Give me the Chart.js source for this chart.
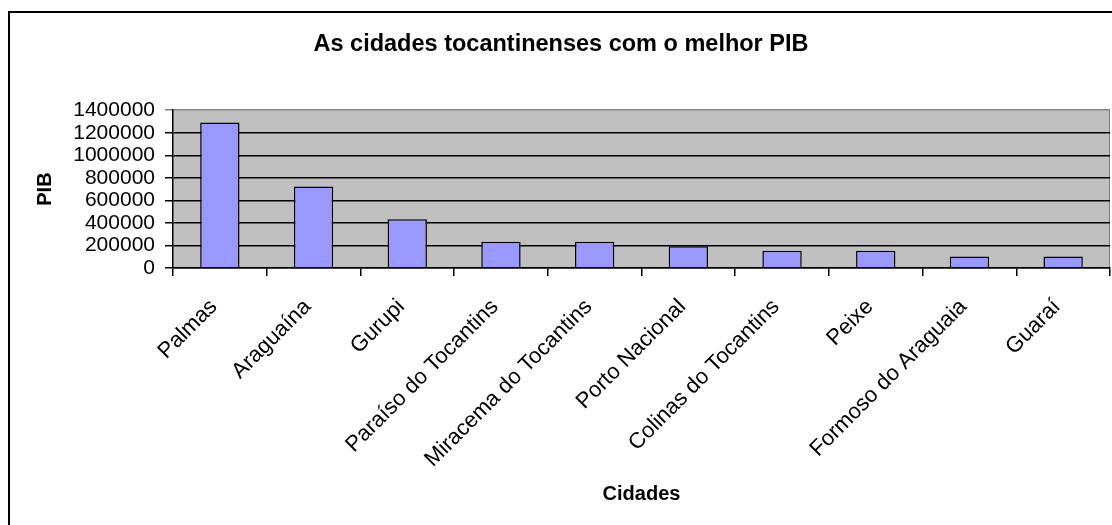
<!DOCTYPE html>
<html>
<head>
<meta charset="utf-8">
<script src="https://cdn.jsdelivr.net/npm/chart.js@4/dist/chart.umd.min.js"></script>
<style>
  html, body { margin: 0; padding: 0; background: #fff; overflow: hidden; }
  #wrap { position: relative; width: 1112px; height: 525px; }
  #frame {
    position: absolute; left: 8px; top: 11px; width: 2000px; height: 2000px;
    border-left: 2px solid #000; border-top: 2px solid #000; pointer-events: none;
  }
</style>
</head>
<body>
<div id="wrap">
  <canvas id="chart" width="1112" height="525"></canvas>
  <div id="frame"></div>
</div>
<script>
const cidades = [
  'Palmas', 'Araguaína', 'Gurupi', 'Paraíso do Tocantins', 'Miracema do Tocantins',
  'Porto Nacional', 'Colinas do Tocantins', 'Peixe', 'Formoso do Araguaia', 'Guaraí'
]
const pib = [1290000, 722000, 433000, 233000, 232000, 194000, 153000, 153000, 103000, 103000]
const yTicks = [0, 200000, 400000, 600000, 800000, 1000000, 1200000, 1400000]

const fontFamily = '"Liberation Sans", Arial, sans-serif'

// grey plot area like the old spreadsheet charts
const plotBackground = {
  id: 'plotBackground',
  beforeDraw (chart) {
    const { ctx, chartArea: a } = chart
    ctx.save()
    ctx.fillStyle = '#c0c0c0'
    ctx.fillRect(a.left, a.top, a.right - a.left, a.bottom - a.top)
    ctx.strokeStyle = '#808080'
    ctx.lineWidth = 1
    ctx.beginPath()
    ctx.moveTo(a.right - 0.5, a.top)
    ctx.lineTo(a.right - 0.5, a.bottom)
    ctx.stroke()
    ctx.restore()
  }
}

new Chart(document.getElementById('chart'), {
  type: 'bar',
  data: {
    labels: cidades,
    datasets: [{
      label: 'PIB',
      data: pib,
      backgroundColor: '#9999ff',
      borderColor: '#000',
      borderWidth: 1.5,
      barPercentage: 0.42,
      categoryPercentage: 1
    }]
  },
  plugins: [plotBackground],
  options: {
    responsive: false,
    animation: false,
    layout: { padding: { top: 20, left: 12, right: 2, bottom: 10 } },
    scales: {
      x: {
        afterFit (scale) { scale.height = 247 },
        grid: { drawOnChartArea: false, color: '#000', tickLength: 8, lineWidth: 1.5 },
        border: { color: '#000', width: 1.5 },
        ticks: {
          color: '#000',
          font: { family: fontFamily, size: 22 },
          minRotation: 45,
          maxRotation: 45,
          padding: 18,
          labelOffset: -6,
          autoSkip: false
        },
        title: {
          display: true,
          text: 'Cidades',
          color: '#000',
          font: { family: fontFamily, size: 20, weight: 'bold' },
          padding: { top: 0, bottom: 9 }
        }
      },
      y: {
        min: 0,
        max: 1400000,
        afterBuildTicks (scale) { scale.ticks = yTicks.map(v => ({ value: v })) },
        afterFit (scale) { scale.width = 161 },
        grid: {
          color: ctx => (ctx.tick && ctx.tick.value === 1400000 ? '#808080' : '#000'),
          lineWidth: 1.5,
          tickLength: 8
        },
        border: { color: '#000', width: 1.5 },
        ticks: {
          color: '#000',
          font: { family: fontFamily, size: 21 },
          padding: 10,
          autoSkip: false,
          callback: v => String(v)
        },
        title: {
          display: true,
          text: 'PIB',
          color: '#000',
          font: { family: fontFamily, size: 20, weight: 'bold' },
          padding: { top: 21, bottom: 0 }
        }
      }
    },
    plugins: {
      legend: { display: false },
      tooltip: { enabled: false },
      title: {
        display: true,
        text: 'As cidades tocantinenses com o melhor PIB',
        color: '#000',
        font: { family: fontFamily, size: 23.5, weight: 'bold' },
        padding: { top: 10, bottom: 52 }
      }
    }
  }
})
</script>
</body>
</html>
